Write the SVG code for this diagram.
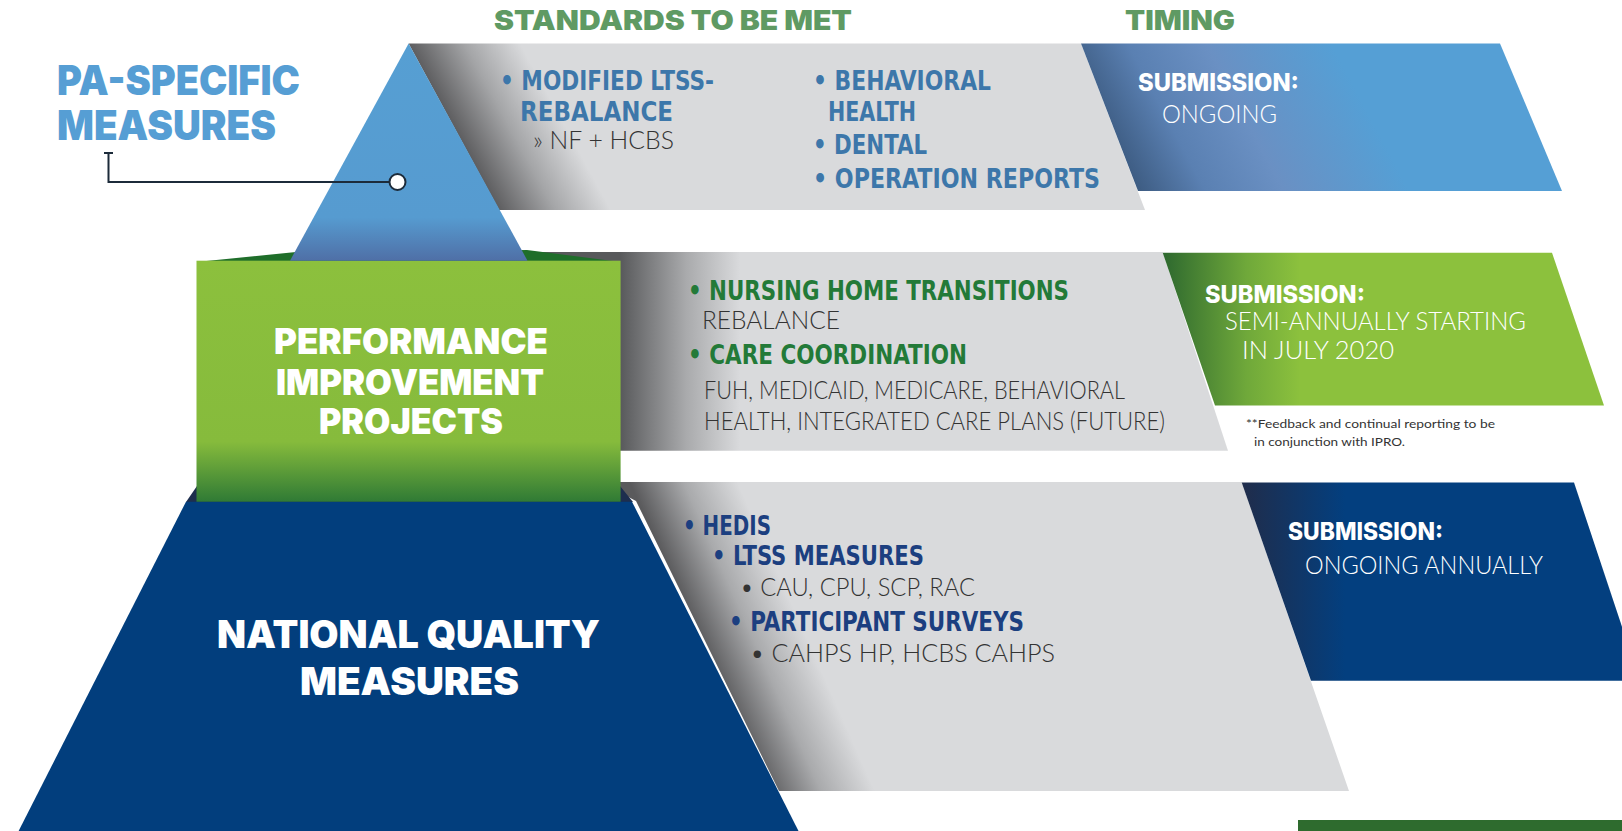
<svg xmlns="http://www.w3.org/2000/svg" width="1622" height="831" viewBox="0 0 1622 831">
<style>
.hdr{font-family:Inter,Lato,"Open Sans",sans-serif;font-weight:900;font-size:27px;fill:#5f9a63}
.big{font-family:Inter,Lato,"Open Sans",sans-serif;font-weight:900}
.cb{font-family:"Liberation Sans Narrow","DejaVu Sans Condensed","Liberation Sans",sans-serif;font-weight:700;font-size:27px}
.lt{font-family:Lato,"Open Sans",sans-serif;font-weight:300;font-size:25px}
.sub{font-family:Inter,Lato,"Open Sans",sans-serif;font-weight:800;font-size:24px;fill:#fff}
.blue1{fill:#3d77aa}
.grn{fill:#237a38}
.navy{fill:#1c3f80}
.dk{fill:#333}
.wh{fill:#fff}
.fn{font-family:Lato,"Open Sans",sans-serif;font-weight:400;font-size:11.5px;fill:#333}
</style>
<defs>
<linearGradient id="triG" x1="0" y1="43" x2="0" y2="261" gradientUnits="userSpaceOnUse">
<stop offset="0" stop-color="#569fd3"/><stop offset="0.8" stop-color="#569bd0"/><stop offset="1" stop-color="#4f6fa6"/>
</linearGradient>
<linearGradient id="grey1" x1="454" y1="127" x2="540" y2="80" gradientUnits="userSpaceOnUse">
<stop offset="0" stop-color="#5e5e60"/><stop offset="0.5" stop-color="#a4a5a7"/><stop offset="1" stop-color="#d9dadc"/>
</linearGradient>
<linearGradient id="blue1" x1="1095" y1="190" x2="1340" y2="60" gradientUnits="userSpaceOnUse">
<stop offset="0" stop-color="#2b4564"/><stop offset="0.35" stop-color="#5a80b2"/><stop offset="0.6" stop-color="#6a90c3"/><stop offset="1" stop-color="#559fd5"/>
</linearGradient>
<linearGradient id="grey2" x1="620" y1="0" x2="740" y2="0" gradientUnits="userSpaceOnUse">
<stop offset="0" stop-color="#58595b"/><stop offset="0.55" stop-color="#a9aaac"/><stop offset="1" stop-color="#d9dadc"/>
</linearGradient>
<linearGradient id="green2" x1="1165" y1="0" x2="1300" y2="0" gradientUnits="userSpaceOnUse">
<stop offset="0" stop-color="#2f6a2f"/><stop offset="0.6" stop-color="#6fa83a"/><stop offset="1" stop-color="#8cc13d"/>
</linearGradient>
<linearGradient id="pipG" x1="0" y1="261" x2="0" y2="502" gradientUnits="userSpaceOnUse">
<stop offset="0" stop-color="#8cc03d"/><stop offset="0.75" stop-color="#86bb3c"/><stop offset="1" stop-color="#2f7a35"/>
</linearGradient>
<linearGradient id="grey3" x1="700" y1="640" x2="790" y2="600" gradientUnits="userSpaceOnUse">
<stop offset="0" stop-color="#5a5a5c"/><stop offset="0.5" stop-color="#a9aaac"/><stop offset="1" stop-color="#d9dadc"/>
</linearGradient>
<linearGradient id="navy3" x1="1245" y1="0" x2="1345" y2="0" gradientUnits="userSpaceOnUse">
<stop offset="0" stop-color="#1f2d4c"/><stop offset="1" stop-color="#033f7f"/>
</linearGradient>
</defs>
<rect width="1622" height="831" fill="#fff"/>

<g id="headers">
<text class="hdr" x="494" y="30" textLength="358" lengthAdjust="spacingAndGlyphs">STANDARDS TO BE MET</text>
<text class="hdr" x="1125" y="30" textLength="110" lengthAdjust="spacingAndGlyphs">TIMING</text>
</g>

<g id="band-pa">
<polygon points="408.6,43.4 1081,43.4 1145,210 499,210" fill="url(#grey1)"/>
<polygon points="1081,43.4 1500,43.4 1562,191 1138,191" fill="url(#blue1)"/>
<text class="cb blue1" x="500" y="90" textLength="214" lengthAdjust="spacingAndGlyphs">• MODIFIED LTSS-</text>
<text class="cb blue1" x="520" y="121" textLength="153" lengthAdjust="spacingAndGlyphs">REBALANCE</text>
<text class="lt dk" x="533" y="149" textLength="141" lengthAdjust="spacingAndGlyphs">» NF + HCBS</text>
<text class="cb blue1" x="813" y="90" textLength="178" lengthAdjust="spacingAndGlyphs">• BEHAVIORAL</text>
<text class="cb blue1" x="828" y="121" textLength="88" lengthAdjust="spacingAndGlyphs">HEALTH</text>
<text class="cb blue1" x="813" y="154" textLength="114" lengthAdjust="spacingAndGlyphs">• DENTAL</text>
<text class="cb blue1" x="813" y="188" textLength="287" lengthAdjust="spacingAndGlyphs">• OPERATION REPORTS</text>
<text class="sub" x="1138" y="91" textLength="161" lengthAdjust="spacingAndGlyphs">SUBMISSION:</text>
<text class="lt wh" x="1162" y="123" textLength="115" lengthAdjust="spacingAndGlyphs">ONGOING</text>
</g>

<g id="band-pip">
<polygon points="500,252 1162.7,252 1228,450.7 500,450.7" fill="url(#grey2)"/>
<polygon points="1162.7,252.7 1552,252.7 1604,405.5 1215,405.5" fill="url(#green2)"/>
<text class="cb grn" x="688" y="300" textLength="381" lengthAdjust="spacingAndGlyphs">• NURSING HOME TRANSITIONS</text>
<text class="lt dk" x="702" y="329" textLength="138" lengthAdjust="spacingAndGlyphs">REBALANCE</text>
<text class="cb grn" x="688" y="364" textLength="279" lengthAdjust="spacingAndGlyphs">• CARE COORDINATION</text>
<text class="lt dk" x="704" y="399" textLength="421" lengthAdjust="spacingAndGlyphs">FUH, MEDICAID, MEDICARE, BEHAVIORAL</text>
<text class="lt dk" x="704" y="430" textLength="461" lengthAdjust="spacingAndGlyphs">HEALTH, INTEGRATED CARE PLANS (FUTURE)</text>
<text class="sub" x="1205" y="303" textLength="160" lengthAdjust="spacingAndGlyphs">SUBMISSION:</text>
<text class="lt wh" x="1225" y="330" textLength="301" lengthAdjust="spacingAndGlyphs">SEMI-ANNUALLY STARTING</text>
<text class="lt wh" x="1242" y="359" textLength="152" lengthAdjust="spacingAndGlyphs">IN JULY 2020</text>
<text class="fn" x="1246" y="428" textLength="249" lengthAdjust="spacingAndGlyphs">**Feedback and continual reporting to be</text>
<text class="fn" x="1254" y="446" textLength="151" lengthAdjust="spacingAndGlyphs">in conjunction with IPRO.</text>
</g>

<g id="band-nqm">
<polygon points="600,482 1241.7,482 1349,791 779,791 636,501" fill="url(#grey3)"/>
<polygon points="1241.7,482.5 1574,482.5 1640,680.7 1311,680.7" fill="url(#navy3)"/>
<text class="cb navy" x="683" y="535" textLength="88" lengthAdjust="spacingAndGlyphs">• HEDIS</text>
<text class="cb navy" x="712" y="565" textLength="212" lengthAdjust="spacingAndGlyphs">• LTSS MEASURES</text>
<text class="lt dk" x="740" y="596" textLength="235" lengthAdjust="spacingAndGlyphs">• CAU, CPU, SCP, RAC</text>
<text class="cb navy" x="729" y="631" textLength="295" lengthAdjust="spacingAndGlyphs">• PARTICIPANT SURVEYS</text>
<text class="lt dk" x="750" y="662" textLength="305" lengthAdjust="spacingAndGlyphs">• CAHPS HP, HCBS CAHPS</text>
<text class="sub" x="1288" y="540" textLength="155" lengthAdjust="spacingAndGlyphs">SUBMISSION:</text>
<text class="lt wh" x="1305" y="574" textLength="238" lengthAdjust="spacingAndGlyphs">ONGOING ANNUALLY</text>
</g>

<g id="node-nqm">
<polygon points="186,502 197,486 620,486 633,502" fill="#1d2e4e"/>
<polygon points="186,501.7 632,501.7 798.5,831 18.6,831" fill="#023e7d"/>
<text class="big wh" x="217" y="648" font-size="38" textLength="383" lengthAdjust="spacingAndGlyphs">NATIONAL QUALITY</text>
<text class="big wh" x="300" y="695" font-size="38" textLength="219" lengthAdjust="spacingAndGlyphs">MEASURES</text>
</g>

<g id="node-pip">
<polygon points="196.5,262 296,252 527,250 620.6,262" fill="#1f6e2a"/>
<rect x="196.5" y="260.7" width="424.1" height="241" fill="url(#pipG)"/>
<text class="big wh" x="274" y="354" font-size="35" textLength="274" lengthAdjust="spacingAndGlyphs">PERFORMANCE</text>
<text class="big wh" x="276" y="395" font-size="35" textLength="268" lengthAdjust="spacingAndGlyphs">IMPROVEMENT</text>
<text class="big wh" x="319" y="434" font-size="35" textLength="184" lengthAdjust="spacingAndGlyphs">PROJECTS</text>
</g>

<g id="node-pa">
<polygon points="408.6,43.4 527.5,260.7 290,260.7" fill="url(#triG)"/>
<text class="big" x="57" y="95" font-size="41" fill="#569ed4" textLength="243" lengthAdjust="spacingAndGlyphs">PA-SPECIFIC</text>
<text class="big" x="57" y="139.5" font-size="41" fill="#569ed4" textLength="219" lengthAdjust="spacingAndGlyphs">MEASURES</text>
</g>

<g id="node-footer-bar">
<rect x="1298" y="820" width="324" height="11" fill="#2e6b2e"/>
</g>

<g id="connectors">
<path d="M104,153 L113,153 M108.5,153 L108.5,182 L389,182" fill="none" stroke="#1c2b3a" stroke-width="2"/>
<circle cx="397.5" cy="182" r="8" fill="#fff" stroke="#1c2b3a" stroke-width="2"/>
</g>
</svg>
